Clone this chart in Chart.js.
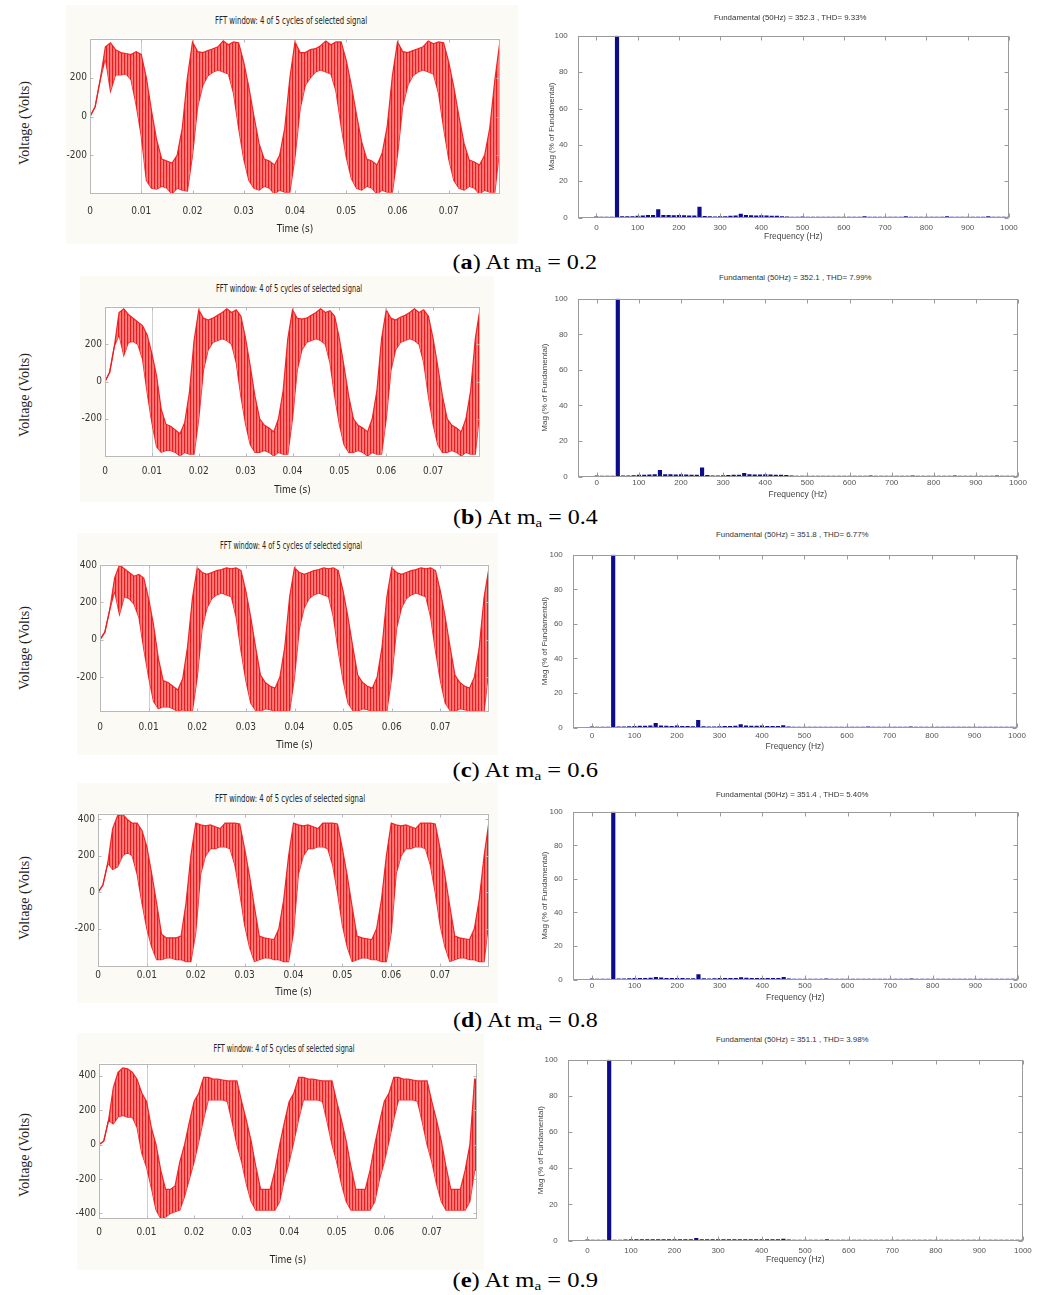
<!DOCTYPE html>
<html><head><meta charset="utf-8">
<script src="https://cdn.jsdelivr.net/npm/chart.js@4.4.0/dist/chart.umd.min.js"></script>
<style>
html,body{margin:0;padding:0;background:#fff;}
body{width:1053px;height:1295px;position:relative;overflow:hidden;}
canvas{position:absolute;}
.txt{position:absolute;white-space:nowrap;line-height:1;transform-origin:50% 50%;}
.bg{position:absolute;}
</style></head><body>
<script>
// ---------------- DATA ----------------
const TIME = [0,0.001,0.002,0.003,0.004,0.005,0.006,0.007,0.008,0.009,
0.010,0.011,0.012,0.013,0.014,0.015,0.016,0.017,0.018,0.019,
0.020,0.021,0.022,0.023,0.024,0.025,0.026,0.027,0.028,0.029,
0.030,0.031,0.032,0.033,0.034,0.035,0.036,0.037,0.038,0.039,
0.040,0.041,0.042,0.043,0.044,0.045,0.046,0.047,0.048,0.049,
0.050,0.051,0.052,0.053,0.054,0.055,0.056,0.057,0.058,0.059,
0.060,0.061,0.062,0.063,0.064,0.065,0.066,0.067,0.068,0.069,
0.070,0.071,0.072,0.073,0.074,0.075,0.076,0.077,0.078,0.079,
0.080];

// upper / lower envelope of the switched voltage band (V)
const VA_HI = [0,50,190,360,380,345,330,325,320,335, 320,200,30,-120,-220,-230,-240,-200,-60,200,
385,335,330,340,350,360,390,370,385,380, 280,150,0,-140,-220,-230,-250,-200,-60,200,
385,330,330,345,350,365,390,370,385,385, 290,160,10,-130,-220,-230,-250,-190,-50,210,
385,335,330,340,350,360,390,375,385,380, 280,150,0,-140,-225,-235,-250,-200,-60,190,
390];
const VA_LO = [0,50,190,300,130,215,215,220,190,60, -100,-330,-370,-375,-360,-370,-400,-370,-380,-385,
-200,50,160,210,230,240,230,220,120,-60, -220,-330,-370,-380,-360,-370,-400,-380,-390,-390,
-210,40,160,200,230,240,230,220,130,-50, -210,-320,-370,-380,-360,-370,-400,-380,-390,-390,
-200,50,160,210,230,240,230,220,120,-60, -220,-330,-370,-380,-360,-370,-400,-380,-390,-390,
-150];

const VB_HI = [0,50,190,370,390,360,340,320,300,250, 150,30,-150,-230,-240,-260,-280,-220,-60,220,
385,340,330,340,355,370,390,370,385,350, 230,80,-80,-200,-235,-250,-270,-200,-50,230,
385,340,335,340,355,370,390,370,380,350, 230,80,-80,-200,-235,-250,-270,-200,-50,230,
385,340,330,345,355,370,390,370,385,350, 230,80,-80,-200,-235,-250,-270,-200,-50,230,
390];
const VB_LO = [0,50,190,250,140,210,215,200,120,-60, -220,-350,-380,-370,-370,-380,-400,-380,-390,-390,
-200,60,170,210,220,230,220,200,100,-80, -230,-340,-380,-380,-370,-380,-400,-380,-390,-390,
-200,60,170,210,220,230,220,200,100,-80, -230,-340,-380,-380,-370,-380,-400,-380,-390,-390,
-200,60,170,210,220,230,220,200,100,-80, -230,-340,-380,-380,-370,-380,-400,-380,-390,-390,
-150];

const VC_HI = [0,40,160,330,400,380,360,340,350,330, 220,80,-100,-220,-230,-250,-270,-210,-40,220,
385,360,350,360,370,375,385,380,385,370, 260,120,-40,-190,-230,-250,-260,-200,-40,230,
385,360,350,360,370,375,385,380,385,370, 260,120,-40,-190,-230,-250,-260,-200,-40,230,
385,360,350,360,370,375,385,380,385,370, 260,120,-40,-190,-230,-250,-260,-200,-40,230,
385];
const VC_LO = [0,40,160,260,135,230,220,190,120,-50, -200,-330,-370,-360,-360,-370,-384,-375,-384,-384,
-200,60,170,220,240,250,240,230,120,-60, -220,-340,-380,-384,-370,-375,-384,-380,-384,-384,
-200,60,170,220,240,250,240,230,120,-60, -220,-340,-380,-384,-370,-375,-384,-380,-384,-384,
-200,60,170,220,240,250,240,230,120,-60, -220,-340,-380,-384,-370,-375,-384,-380,-384,-384,
-150];

const VD_HI = [0,40,160,350,420,430,400,380,380,340, 250,100,-60,-230,-250,-250,-250,-240,-60,200,
380,370,365,370,360,350,380,380,380,375, 240,90,-80,-240,-250,-255,-260,-200,-40,200,
380,370,365,370,360,350,380,380,380,375, 240,90,-80,-240,-250,-255,-260,-200,-40,200,
380,370,365,370,360,350,380,380,380,375, 240,90,-80,-240,-250,-255,-260,-200,-40,200,
390];
const VD_LO = [0,40,160,125,140,200,220,200,100,-60, -200,-300,-370,-370,-360,-360,-370,-370,-380,-380,
-220,100,200,240,240,250,250,240,150,0, -180,-300,-380,-370,-360,-360,-370,-370,-380,-380,
-220,100,200,240,240,250,250,240,150,0, -180,-300,-380,-370,-360,-360,-370,-370,-380,-380,
-220,100,200,240,240,250,250,240,150,0, -180,-300,-380,-370,-360,-360,-370,-370,-380,-380,
-150];

const VE_HI = [0,20,140,330,420,445,440,420,380,300, 250,100,0,-150,-260,-260,-240,-100,0,130,
250,300,390,390,380,380,375,370,370,370, 250,140,20,-130,-260,-260,-260,-150,0,130,
250,300,390,390,380,380,375,370,370,370, 250,140,20,-130,-260,-260,-260,-150,0,130,
250,300,390,390,380,380,375,370,370,370, 250,140,20,-130,-260,-260,-260,-150,0,380,
380];
const VE_LO = [0,20,140,120,160,170,160,160,100,-50, -130,-250,-380,-430,-420,-400,-390,-380,-300,-200,
-100,20,150,260,260,260,260,250,130,0, -100,-230,-330,-380,-380,-380,-380,-380,-330,-200,
-100,20,150,260,260,260,260,250,130,0, -100,-230,-330,-380,-380,-380,-380,-380,-330,-200,
-100,20,150,260,260,260,260,250,130,0, -100,-230,-330,-380,-380,-380,-380,-380,-330,-150,
-150];

const FREQ = [0,12.5,25,37.5,50,62.5,75,87.5,100,112.5,
125,137.5,150,162.5,175,187.5,200,212.5,225,237.5,
250,262.5,275,287.5,300,312.5,325,337.5,350,362.5,
375,387.5,400,412.5,425,437.5,450,462.5,475,487.5,
500,512.5,525,537.5,550,562.5,575,587.5,600,612.5,
625,637.5,650,662.5,675,687.5,700,712.5,725,737.5,
750,762.5,775,787.5,800,812.5,825,837.5,850,862.5,
875,887.5,900,912.5,925,937.5,950,962.5,975,987.5,
1000];

const MAG_A = [0.4,0.3,0.3,0.3,100,0.5,0.5,0.6,0.9,1.0,
1.2,1.3,4.4,1.3,1.2,1.1,1.3,1.1,1.0,1.0,
5.8,0.7,0.5,0.4,0.5,0.6,0.8,1.0,2.0,1.3,
1.1,1.0,1.1,1.0,0.9,0.8,0.6,0.4,0.3,0.3,
0.4,0.3,0.3,0.3,0.3,0.3,0.3,0.3,0.3,0.3,
0.3,0.3,0.5,0.3,0.3,0.3,0.3,0.3,0.3,0.3,
0.5,0.3,0.3,0.3,0.3,0.3,0.3,0.3,0.5,0.3,
0.3,0.3,0.3,0.3,0.3,0.3,0.6,0.3,0.3,0.3,
0.3];
const MAG_B = [0.4,0.3,0.3,0.3,100,0.4,0.5,0.6,0.8,0.9,
1.0,1.2,3.5,1.2,1.1,1.0,1.2,1.0,0.9,0.8,
5.0,0.7,0.5,0.5,0.6,0.7,0.8,0.9,1.8,1.2,
1.0,1.0,1.1,1.0,0.9,0.8,0.7,0.4,0.3,0.3,
0.3,0.3,0.3,0.3,0.3,0.3,0.3,0.3,0.3,0.3,
0.3,0.3,0.4,0.3,0.3,0.3,0.3,0.3,0.3,0.3,
0.4,0.3,0.3,0.3,0.3,0.3,0.3,0.3,0.4,0.3,
0.3,0.3,0.3,0.3,0.3,0.3,0.4,0.3,0.3,0.3,
0.3];
const MAG_C = [0.4,0.3,0.3,0.3,100,0.4,0.5,0.6,0.8,0.9,
0.9,1.0,2.4,1.0,0.9,0.8,1.0,0.8,0.7,0.6,
4.2,0.6,0.5,0.5,0.6,0.7,0.8,0.9,1.7,1.0,
0.9,0.9,1.0,0.8,0.7,0.7,1.2,0.4,0.3,0.3,
0.3,0.3,0.3,0.3,0.3,0.3,0.3,0.3,0.3,0.3,
0.3,0.3,0.5,0.3,0.3,0.3,0.3,0.3,0.3,0.3,
0.5,0.3,0.3,0.3,0.3,0.3,0.3,0.3,0.3,0.3,
0.3,0.3,0.3,0.3,0.3,0.3,0.3,0.3,0.3,0.3,
0.3];
const MAG_D = [0.4,0.3,0.3,0.3,100,0.4,0.5,0.6,0.7,0.8,
0.8,0.9,1.3,1.0,0.8,0.7,0.7,0.7,0.6,0.6,
3.0,0.6,0.5,0.6,0.8,0.7,0.8,0.8,1.2,0.9,
0.8,0.8,0.8,0.7,0.7,0.7,1.3,0.4,0.3,0.3,
0.3,0.3,0.3,0.3,0.5,0.3,0.3,0.3,0.3,0.3,
0.3,0.3,0.3,0.3,0.3,0.3,0.3,0.3,0.3,0.3,
0.5,0.3,0.3,0.3,0.3,0.3,0.3,0.3,0.3,0.3,
0.3,0.3,0.3,0.3,0.3,0.3,0.3,0.3,0.3,0.3,
0.3];
const MAG_E = [0.4,0.3,0.3,0.3,100,0.3,0.3,0.4,0.5,0.5,
0.5,0.5,0.6,0.5,0.5,0.5,0.5,0.5,0.6,0.6,
1.2,0.6,0.6,0.6,0.6,0.6,0.6,0.6,0.6,0.6,
0.6,0.6,0.6,0.6,0.6,0.6,0.9,0.4,0.3,0.3,
0.3,0.3,0.3,0.3,0.6,0.3,0.3,0.3,0.3,0.3,
0.3,0.3,0.3,0.3,0.3,0.3,0.3,0.3,0.3,0.3,
0.3,0.3,0.3,0.3,0.3,0.3,0.3,0.3,0.3,0.3,
0.3,0.3,0.3,0.3,0.3,0.3,0.3,0.3,0.3,0.3,
0.3];

const TIME_TICKS = [0,0.01,0.02,0.03,0.04,0.05,0.06,0.07];
const V_TICKS_A = [-200,0,200];
const V_TICKS_B = [-200,0,200];
const V_TICKS_C = [-200,0,200,400];
const V_TICKS_D = [-200,0,200,400];
const V_TICKS_E = [-400,-200,0,200,400];
const FREQ_TICKS = [0,100,200,300,400,500,600,700,800,900,1000];
const MAG_TICKS = [0,20,40,60,80,100];
const FFT_WINDOW_START = 0.01;

const WAVE_TITLE = "FFT window: 4 of 5 cycles of selected signal";
const FFT_TITLES = ["Fundamental (50Hz) = 352.3 , THD= 9.33%","Fundamental (50Hz) = 352.1 , THD= 7.99%",
"Fundamental (50Hz) = 351.8 , THD= 6.77%","Fundamental (50Hz) = 351.4 , THD= 5.40%","Fundamental (50Hz) = 351.1 , THD= 3.98%"];
const PANEL_LETTERS = ["a","b","c","d","e"];
const MA_VALUES = ["0.2","0.4","0.6","0.8","0.9"];
const V_AXIS_TITLE = "Voltage (Volts)";
const T_AXIS_TITLE = "Time (s)";
const F_AXIS_TITLE = "Frequency (Hz)";
const M_AXIS_TITLE = "Mag (% of Fundamental)";

const WAVES_HI = [VA_HI,VB_HI,VC_HI,VD_HI,VE_HI];
const WAVES_LO = [VA_LO,VB_LO,VC_LO,VD_LO,VE_LO];
const MAGS = [MAG_A,MAG_B,MAG_C,MAG_D,MAG_E];
const V_TICKS = [V_TICKS_A,V_TICKS_B,V_TICKS_C,V_TICKS_D,V_TICKS_E];

// ---------------- LAYOUT (page pixels) ----------------
const LAYOUT = [
 {L:{x0:90,x1:500,y0:38,y1:194,ymin:-400,ymax:400,xmax:0.08,titleY:20,titleW:152,xtickY:211,xlabY:229,voltY:123,bg:[66,5,518,244]},
  R:{x0:578,x1:1009,y0:29,y1:218,xmin:-45,titleY:18,xtickY:228,xlabY:237,ylabX:552}, capY:262},
 {L:{x0:105,x1:480,y0:306,y1:457,ymin:-405,ymax:400,xmax:0.08,titleY:288,titleW:146,xtickY:471,xlabY:490,voltY:395,bg:[80,276,494,502]},
  R:{x0:578,x1:1018,y0:292,y1:477,xmin:-45,titleY:278,xtickY:483,xlabY:495,ylabX:545}, capY:517},
 {L:{x0:100,x1:489,y0:564,y1:712,ymin:-388,ymax:400,xmax:0.08,titleY:545,titleW:142,xtickY:727,xlabY:745,voltY:648,bg:[77,533,498,755]},
  R:{x0:573,x1:1017,y0:548,y1:728,xmin:-45,titleY:535,xtickY:736,xlabY:747,ylabX:545}, capY:770},
 {L:{x0:98,x1:489,y0:813,y1:967,ymin:-410,ymax:430,xmax:0.08,titleY:798,titleW:150,xtickY:975,xlabY:992,voltY:898,bg:[77,783,498,1003]},
  R:{x0:573,x1:1018,y0:805,y1:980,xmin:-45,titleY:795,xtickY:986,xlabY:998,ylabX:545}, capY:1020},
 {L:{x0:99,x1:477,y0:1063,y1:1219,ymin:-432,ymax:468,xmax:0.0795,titleY:1048,titleW:141,xtickY:1232,xlabY:1260,voltY:1155,bg:[77,1033,484,1270]},
  R:{x0:568,x1:1023,y0:1053,y1:1241,xmin:-45,titleY:1040,xtickY:1251,xlabY:1260,ylabX:541}, capY:1280}
];

// ---------------- helpers ----------------
function pickFont(cands, fallback){
  const c = document.createElement('canvas').getContext('2d');
  const test = 'FFT window 0.01 abcdefghijklm';
  c.font = '20px monospace'; const base = c.measureText(test).width;
  for (const f of cands){ c.font = '20px "'+f+'", monospace'; if (Math.abs(c.measureText(test).width-base) > 0.5) return f; }
  return fallback;
}
const NARROW = pickFont(['Liberation Sans Narrow','DejaVu Sans Condensed','Roboto Condensed'],'Liberation Sans');
const SANS = 'Liberation Sans, Arial, sans-serif';

function addText(html, cx, cy, style, targetW, rot){
  const d = document.createElement('div');
  d.className = 'txt'; d.innerHTML = html;
  Object.assign(d.style, style);
  document.body.appendChild(d);
  const w = d.offsetWidth, h = d.offsetHeight;
  const k = targetW ? targetW / w : 1;
  d.style.left = (cx - w/2) + 'px'; d.style.top = (cy - h/2) + 'px';
  d.style.transform = (rot ? 'rotate(-90deg) ' : '') + 'scaleX(' + k + ')';
  return d;
}
function mkCanvas(l,t,w,h){
  const c = document.createElement('canvas');
  c.width = Math.round(w); c.height = Math.round(h);
  c.style.left = Math.round(l)+'px'; c.style.top = Math.round(t)+'px';
  c.style.width = Math.round(w)+'px'; c.style.height = Math.round(h)+'px';
  document.body.appendChild(c);
  return c;
}
// dense vertical switching texture for the band fill
function stripePattern(){
  const c = document.createElement('canvas'); c.width = 3; c.height = 4;
  const g = c.getContext('2d');
  g.fillStyle = 'rgba(255,88,88,0.88)'; g.fillRect(0,0,3,4);
  g.fillStyle = 'rgba(225,10,10,0.80)'; g.fillRect(0,0,1,4);
  g.fillStyle = 'rgba(255,130,130,0.80)'; g.fillRect(2,0,1,4);
  return g.createPattern(c,'repeat');
}

const framePlugin = {
  id:'frame',
  beforeDatasetsDraw(chart, args, o){
    if (o.markX == null) return;
    const {ctx, chartArea:a, scales:{x}} = chart;
    const px = Math.round(x.getPixelForValue(o.markX)) + 0.5;
    ctx.save(); ctx.strokeStyle = o.markColor; ctx.lineWidth = 1;
    ctx.beginPath(); ctx.moveTo(px, a.top); ctx.lineTo(px, a.bottom); ctx.stroke(); ctx.restore();
  },
  afterDatasetsDraw(chart, args, o){
    const {ctx, chartArea:a, scales:{x,y}} = chart;
    ctx.save(); ctx.strokeStyle = o.color; ctx.lineWidth = 1;
    const L = Math.round(a.left)+0.5, T = Math.round(a.top)+0.5, R = Math.round(a.right)-0.5, B = Math.round(a.bottom)-0.5;
    ctx.strokeRect(L, T, R-L, B-T);
    ctx.beginPath();
    x.ticks.forEach(t => { const p = Math.round(x.getPixelForValue(t.value))+0.5; if (p < L || p > R+1) return;
      ctx.moveTo(p,B); ctx.lineTo(p,B-o.len); ctx.moveTo(p,T); ctx.lineTo(p,T+o.len); });
    y.ticks.forEach(t => { const p = Math.round(y.getPixelForValue(t.value))+0.5;
      ctx.moveTo(L,p); ctx.lineTo(L+o.len,p); ctx.moveTo(R,p); ctx.lineTo(R-o.len,p); });
    ctx.stroke(); ctx.restore();
  }
};

Chart.defaults.animation = false;
Chart.defaults.responsive = false;
Chart.defaults.devicePixelRatio = 1;

// ---------------- build ----------------
LAYOUT.forEach((row, i) => {
  const L = row.L, R = row.R;
  const bg = document.createElement('div'); bg.className = 'bg';
  Object.assign(bg.style, {left:L.bg[0]+'px', top:L.bg[1]+'px', width:(L.bg[2]-L.bg[0])+'px', height:(L.bg[3]-L.bg[1])+'px', background:'#fbfaf4'});
  document.body.appendChild(bg);
  const pw = document.createElement('div'); pw.className = 'bg';
  Object.assign(pw.style, {left:L.x0+'px', top:L.y0+'px', width:(L.x1-L.x0)+'px', height:(L.y1-L.y0)+'px', background:'#fff'});
  document.body.appendChild(pw);

  // ---- waveform chart ----
  const cl = 40, cr = L.x1 + 8, ct = L.y0 - 8, cb = L.xlabY + 6;
  const cv = mkCanvas(cl, ct, cr-cl, cb-ct);
  const pat = stripePattern();
  new Chart(cv, {
    type:'line',
    data:{datasets:[
      {data: WAVES_HI[i].map((v,k)=>({x:TIME[k], y:v})), borderColor:'rgba(238,30,30,0.95)', borderWidth:1.2,
       backgroundColor: pat, fill:'+1', pointRadius:0, tension:0},
      {data: WAVES_LO[i].map((v,k)=>({x:TIME[k], y:v})), borderColor:'rgba(238,30,30,0.95)', borderWidth:1.2,
       fill:false, pointRadius:0, tension:0}
    ]},
    options:{
      layout:{padding:{top:L.y0-ct, right:cr-L.x1, left:0, bottom:0}},
      plugins:{legend:{display:false}, tooltip:{enabled:false},
        frame:{color:'#b8b8b8', len:3, markX:FFT_WINDOW_START, markColor:'#cfcfcf'}},
      scales:{
        x:{type:'linear', min:0, max:L.xmax, grid:{display:false, drawTicks:false}, border:{display:false},
           afterBuildTicks: ax => { ax.ticks = TIME_TICKS.map(v=>({value:v})); },
           afterFit: ax => { ax.height = cb - L.y1; },
           ticks:{autoSkip:false, maxRotation:0, padding: L.xtickY - L.y1 - 6, color:'#333',
                  font:{family:NARROW, size:10}, callback: v => String(v)},
           title:{display:true, text:T_AXIS_TITLE, color:'#222', font:{family:NARROW, size:10}, padding:{top:0,bottom:0}}},
        y:{type:'linear', min:L.ymin, max:L.ymax, grid:{display:false, drawTicks:false}, border:{display:false},
           afterBuildTicks: ax => { ax.ticks = V_TICKS[i].map(v=>({value:v})); },
           afterFit: ax => { ax.width = L.x0 - cl; },
           ticks:{padding:3, color:'#333', font:{family:NARROW, size:10}, callback: v => String(v)}}
      }
    },
    plugins:[framePlugin]
  });
  addText(WAVE_TITLE, (L.x0+L.x1)/2 - 4, L.titleY, {fontFamily:'"'+NARROW+'", Liberation Sans, sans-serif', fontSize:'11px', color:'#222'}, L.titleW, false);
  addText(V_AXIS_TITLE, 25, L.voltY, {fontFamily:'Liberation Serif, Times New Roman, serif', fontSize:'14px', color:'#222'}, 0, true);

  // ---- FFT chart ----
  const rl = R.ylabX - 4.8, rr = R.x1 + 14, rt = R.y0 - 8, rb = R.xlabY + 5.4;
  const cv2 = mkCanvas(rl, rt, rr-rl, rb-rt);
  new Chart(cv2, {
    type:'bar',
    data:{datasets:[{data: FREQ.map((f,k)=>({x:f, y:MAGS[i][k]})), backgroundColor:'#0c0c8c', borderWidth:0, barThickness:3.5}]},
    options:{
      layout:{padding:{top:R.y0-rt, right:rr-R.x1, left:0, bottom:0}},
      plugins:{legend:{display:false}, tooltip:{enabled:false}, frame:{color:'#9a9a9a', len:4}},
      scales:{
        x:{type:'linear', min:R.xmin, max:1000, offset:false, grid:{display:false, drawTicks:false}, border:{display:false},
           afterBuildTicks: ax => { ax.ticks = FREQ_TICKS.map(v=>({value:v})); },
           afterFit: ax => { ax.height = rb - R.y1; },
           ticks:{autoSkip:false, maxRotation:0, padding: R.xtickY - R.y1 - 4.8, color:'#555', font:{family:SANS, size:8}, callback: v => String(v)},
           title:{display:true, text:F_AXIS_TITLE, color:'#444', font:{family:SANS, size:8.5}, padding:{top:0,bottom:0}}},
        y:{type:'linear', min:0, max:100, grid:{display:false, drawTicks:false}, border:{display:false},
           afterBuildTicks: ax => { ax.ticks = MAG_TICKS.map(v=>({value:v})); },
           afterFit: ax => { ax.width = R.x0 - rl; },
           ticks:{padding:10, color:'#555', font:{family:SANS, size:8}, callback: v => String(v)},
           title:{display:true, text:M_AXIS_TITLE, color:'#444', font:{family:SANS, size:8}, padding:{top:0,bottom:0}}}
      }
    },
    plugins:[framePlugin]
  });
  addText(FFT_TITLES[i], (R.x0+R.x1)/2 - 3, R.titleY, {fontFamily:SANS, fontSize:'8px', color:'#333'}, 153, false);

  // ---- caption ----
  const cap = '(<b>'+PANEL_LETTERS[i]+'</b>) At m<span style="font-size:62%;position:relative;top:0.28em">a</span> = '+MA_VALUES[i];
  addText(cap, 525, row.capY, {fontFamily:'Liberation Serif, Times New Roman, serif', fontSize:'20px', color:'#000'}, 145, false);
});
</script>
</body></html>
